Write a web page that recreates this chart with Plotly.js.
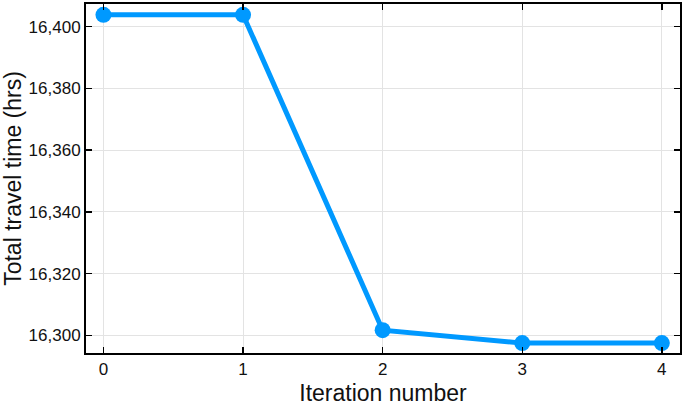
<!DOCTYPE html>
<html>
<head>
<meta charset="utf-8">
<script src="https://cdn.plot.ly/plotly-3.0.1.min.js"></script>
<style>
  html, body { margin: 0; padding: 0; background: #fff; }
  #plot { width: 689px; height: 413px; }
</style>
</head>
<body>
<div id="plot"></div>
<script>
// iterations and total travel time
const iterations = [0, 1, 2, 3, 4];
const travelTime = [16403.8, 16403.8, 16301.7, 16297.5, 16297.5];

const trace = {
  x: iterations,
  y: travelTime,
  mode: 'lines+markers',
  line: { color: '#0099ff', width: 5 },
  marker: { color: '#0099ff', size: 16 },
  cliponaxis: false,
  hoverinfo: 'skip'
};

const axisCommon = {
  showline: true,
  mirror: 'ticks',
  linecolor: '#000',
  linewidth: 2,
  ticks: 'inside',
  ticklen: 6,
  tickwidth: 1.5,
  tickcolor: '#000',
  showgrid: true,
  gridcolor: '#e3e3e3',
  gridwidth: 1,
  zeroline: false,
  tickfont: { family: 'Liberation Sans, Arial, sans-serif', size: 17, color: '#111' }
};

Plotly.newPlot('plot', [trace], {
  width: 689,
  height: 413,
  margin: { l: 86, r: 9, t: 4, b: 60 },
  paper_bgcolor: '#fff',
  plot_bgcolor: '#fff',
  showlegend: false,
  font: { family: 'Liberation Sans, Arial, sans-serif', color: '#111' },
  xaxis: Object.assign({}, axisCommon, {
    range: [-0.125, 4.13],
    tickvals: [0, 1, 2, 3, 4],
    title: { text: 'Iteration number', font: { size: 23, color: '#111' }, standoff: 6 }
  }),
  yaxis: Object.assign({}, axisCommon, {
    range: [16294.3, 16407.3],
    dtick: 20,
    tickformat: ',d',
    title: { text: 'Total travel time (hrs)', font: { size: 23, color: '#111' }, standoff: 6 }
  })
}, { displayModeBar: false, staticPlot: true });
</script>
</body>
</html>
